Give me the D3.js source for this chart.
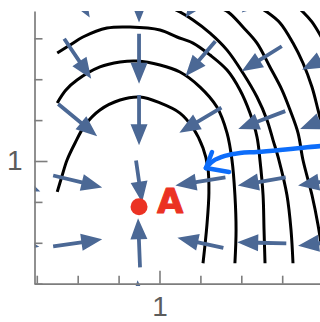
<!DOCTYPE html>
<html>
<head>
<meta charset="utf-8">
<script src="https://cdn.jsdelivr.net/npm/d3@7"></script>
<style>
  html, body { margin: 0; padding: 0; background: #ffffff; }
  svg { display: block; }
</style>
</head>
<body>
<svg id="chart" width="320" height="322"></svg>
<script>
// ---- data ---------------------------------------------------------------
// Vector-field sample grid (data units)
const gridX = [0.125, 0.5, 0.875, 1.25, 1.625, 2.0];
const gridY = [2.0, 1.625, 1.25, 0.875, 0.5, 0.125];

// Field components, one array per column of gridX, rows in gridY order
const fieldU = [
  [0.153, 0.171, 0.220, 0.293, 0.281, 0.269],
  [0.147, 0.165, 0.238, 0.300, 0.300, 0.257],
  [0.000, 0.000, 0.000, 0.037, -0.012, -0.018],
  [-0.183, -0.183, -0.257, -0.306, -0.281, -0.245],
  [-0.245, -0.245, -0.287, -0.293, -0.300, -0.275],
  [-0.245, -0.257, -0.281, -0.306, -0.306, -0.281]
];
const fieldV = [
  [-0.245, -0.245, -0.208, -0.122, -0.049, 0.110],
  [-0.245, -0.245, -0.196, -0.073, 0.043, 0.165],
  [-0.306, -0.306, -0.306, -0.257, 0.300, 0.293],
  [-0.245, -0.214, -0.153, -0.049, 0.061, 0.171],
  [-0.183, -0.153, -0.110, -0.049, 0.006, 0.110],
  [-0.171, -0.134, -0.110, -0.049, -0.037, 0.073]
];

// Level curves, innermost first
const level1 = [[0.375,0.811],[0.404,0.908],[0.435,1.006],[0.484,1.110],[0.545,1.220],[0.636,1.312],[0.759,1.373],[0.881,1.391],[1.003,1.355],[1.125,1.293],[1.205,1.202],[1.266,1.079],[1.296,0.957],[1.302,0.804],[1.290,0.609],[1.266,0.375]];
const level2 = [[0.375,1.355],[0.428,1.434],[0.496,1.495],[0.636,1.575],[0.759,1.605],[0.862,1.611],[1.003,1.587],[1.125,1.544],[1.248,1.452],[1.351,1.330],[1.413,1.171],[1.443,1.006],[1.461,0.792],[1.468,0.578],[1.461,0.375]];
const level3 = [[0.375,1.660],[0.453,1.709],[0.532,1.758],[0.679,1.813],[0.820,1.819],[1.003,1.801],[1.107,1.758],[1.205,1.721],[1.309,1.648],[1.413,1.556],[1.492,1.434],[1.553,1.293],[1.596,1.147],[1.614,1.006],[1.633,0.792],[1.639,0.578],[1.645,0.375]];
const level4 = [[1.034,1.954],[1.125,1.911],[1.205,1.862],[1.309,1.782],[1.413,1.678],[1.510,1.538],[1.596,1.391],[1.657,1.251],[1.694,1.128],[1.730,1.006],[1.779,0.792],[1.804,0.578],[1.816,0.375]];
const level5 = [[1.321,1.954],[1.419,1.911],[1.510,1.819],[1.596,1.721],[1.675,1.575],[1.749,1.434],[1.798,1.312],[1.847,1.171],[1.877,1.006],[1.932,0.792],[1.969,0.609],[1.993,0.456]];
const level6 = [[1.584,1.954],[1.657,1.911],[1.737,1.844],[1.816,1.721],[1.877,1.599],[1.932,1.452],[1.969,1.312],[1.999,1.189]];
const level7 = [[1.828,1.954],[1.877,1.911],[1.932,1.850],[1.999,1.740]];
const levelCurves = [level1, level2, level3, level4, level5, level6, level7];

// Marked point
const pointA = [0.875, 0.72];
const pointLabel = "A";

// Hand-drawn pointer and its two barbs
const pointerPath = [[2.05,1.095],[1.993,1.092],[1.859,1.079],[1.737,1.067],[1.596,1.055],[1.492,1.049],[1.400,1.031],[1.327,1.000],[1.284,0.957]];
const pointerBarbA = [[1.284,0.957],[1.321,1.055]];
const pointerBarbB = [[1.284,0.957],[1.425,0.933]];

// Axes
const xTicks = [0.25, 0.5, 0.75, 1, 1.25, 1.5, 1.75];
const yTicks = [0.25, 0.5, 0.75, 1, 1.25, 1.5, 1.75];
const labelledTicks = [1];
const tickLabel = d => labelledTicks.includes(d) ? String(d) : "";

// ---- layout -------------------------------------------------------------
const svg = d3.select("#chart");
const x = d3.scaleLinear().domain([0.236, 2.0]).range([34.5, 323.1]);
const y = d3.scaleLinear().domain([0.25, 1.917]).range([283.7, 11.0]);

const axisColor = "#7d7d7d";
const arrowColor = "#4b6895";

svg.append("defs").append("clipPath").attr("id", "plotClip")
  .append("rect")
  .attr("x", x.range()[0]).attr("y", y.range()[1])
  .attr("width", 340 - x.range()[0]).attr("height", 286 - y.range()[1]);

const plot = svg.append("g").attr("clip-path", "url(#plotClip)");

// ---- level curves -------------------------------------------------------
const curveLine = d3.line()
  .x(d => x(d[0])).y(d => y(d[1]))
  .curve(d3.curveCatmullRom.alpha(0.5));

plot.append("g").selectAll("path")
  .data(levelCurves).join("path")
  .attr("d", curveLine)
  .attr("fill", "none")
  .attr("stroke", "#000")
  .attr("stroke-width", 3);

// ---- vector field -------------------------------------------------------
const arrows = [];
gridX.forEach((gx, i) => {
  gridY.forEach((gy, j) => {
    arrows.push({ gx, gy, u: fieldU[i][j], v: fieldV[i][j] });
  });
});

const headLen = 21, headHalf = 8.5, shaftHalf = 1.9;
function arrowShape(a) {
  // arrow is centred on its grid point
  const x0 = x(a.gx - a.u / 2), y0 = y(a.gy - a.v / 2);
  const x1 = x(a.gx + a.u / 2), y1 = y(a.gy + a.v / 2);
  const dx = x1 - x0, dy = y1 - y0;
  const L = Math.hypot(dx, dy);
  const ux = dx / L, uy = dy / L, nx = -uy, ny = ux;
  const bx = x1 - ux * headLen, by = y1 - uy * headLen;
  const pts = [
    [x0 + nx * shaftHalf, y0 + ny * shaftHalf],
    [bx + nx * shaftHalf, by + ny * shaftHalf],
    [bx + nx * headHalf, by + ny * headHalf],
    [x1, y1],
    [bx - nx * headHalf, by - ny * headHalf],
    [bx - nx * shaftHalf, by - ny * shaftHalf],
    [x0 - nx * shaftHalf, y0 - ny * shaftHalf]
  ];
  return "M" + pts.map(p => p[0].toFixed(2) + "," + p[1].toFixed(2)).join("L") + "Z";
}

plot.append("g").selectAll("path")
  .data(arrows).join("path")
  .attr("d", arrowShape)
  .attr("fill", arrowColor);

// ---- axes ---------------------------------------------------------------
const xAxis = d3.axisBottom(x).tickValues(xTicks).tickFormat(tickLabel)
  .tickSizeInner(-8).tickSizeOuter(0).tickPadding(12);
const yAxis = d3.axisLeft(y).tickValues(yTicks).tickFormat(tickLabel)
  .tickSizeInner(-8).tickSizeOuter(0).tickPadding(12);

const gx = svg.append("g").attr("transform", `translate(0,${y(0.25)})`).call(xAxis);
const gy = svg.append("g").attr("transform", `translate(${x(0.236)},0)`).call(yAxis);

[gx, gy].forEach(g => {
  g.select(".domain").attr("stroke", axisColor).attr("stroke-width", 1.7);
  g.selectAll(".tick line").attr("stroke", axisColor).attr("stroke-width", 1.6);
  g.selectAll(".tick text")
    .attr("fill", "#5c5c5c")
    .attr("font-family", "'Liberation Sans', Arial, sans-serif")
    .attr("font-size", 28);
});
gx.selectAll(".tick").filter(d => labelledTicks.includes(d)).select("line").attr("y2", -13);
gy.selectAll(".tick").filter(d => labelledTicks.includes(d)).select("line").attr("x2", 13);

// ---- marked point -------------------------------------------------------
const red = "#eb3223";
svg.append("circle")
  .attr("cx", x(pointA[0])).attr("cy", y(pointA[1]))
  .attr("r", 8.5).attr("fill", red);

svg.append("text")
  .attr("x", x(pointA[0]) + 31).attr("y", y(pointA[1]) + 6)
  .attr("text-anchor", "middle")
  .attr("font-family", "'DejaVu Sans', sans-serif")
  .attr("font-weight", "bold")
  .attr("font-size", 34)
  .attr("fill", red)
  .attr("stroke", red).attr("stroke-width", 1).attr("stroke-linejoin", "round")
  .text(pointLabel);

// ---- hand-drawn pointer -------------------------------------------------
const blue = "#0d6dfa";
const straight = d3.line().x(d => x(d[0])).y(d => y(d[1]));
const pointer = svg.append("g")
  .attr("fill", "none").attr("stroke", blue)
  .attr("stroke-width", 4.5).attr("stroke-linecap", "round").attr("stroke-linejoin", "round");
pointer.append("path").attr("d", curveLine(pointerPath));
pointer.append("path").attr("d", straight(pointerBarbA));
pointer.append("path").attr("d", straight(pointerBarbB));
</script>
</body>
</html>
